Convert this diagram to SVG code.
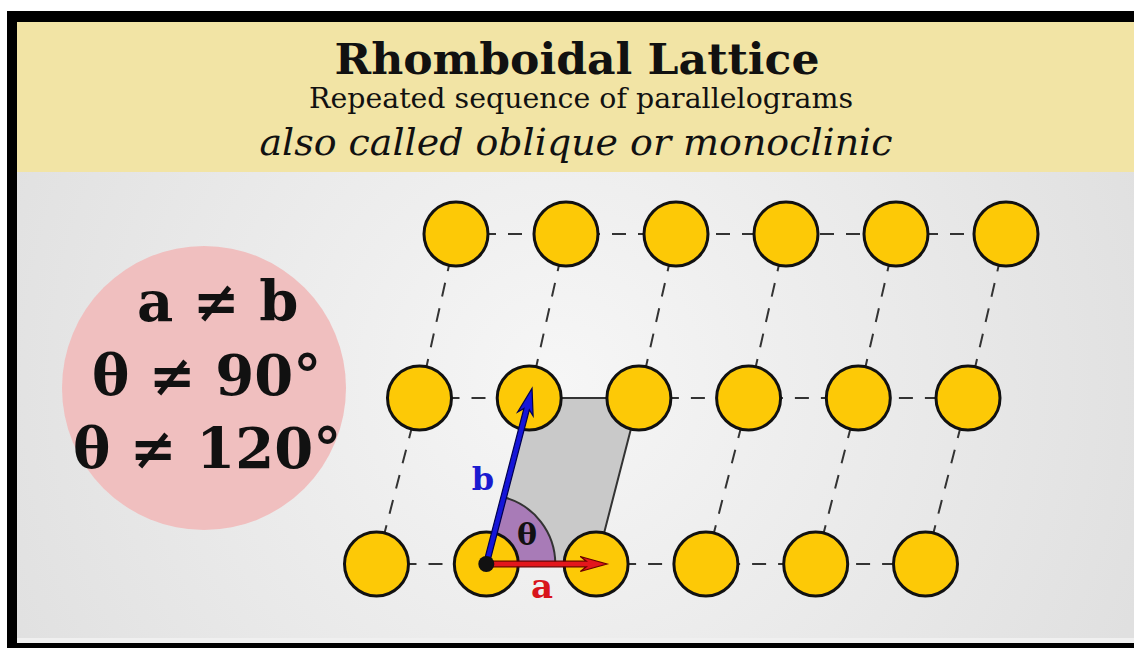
<svg xmlns="http://www.w3.org/2000/svg" width="1134" height="648" viewBox="0 0 1134 648">
<defs>
<radialGradient id="bg" cx="560" cy="380" r="620" gradientUnits="userSpaceOnUse">
<stop offset="0" stop-color="#f6f6f6"/>
<stop offset="1" stop-color="#e0e0e0"/>
</radialGradient>
<style>
.atom{fill:#fdc906;stroke:#111;stroke-width:3}
.dash{fill:none;stroke:#333;stroke-width:2;stroke-dasharray:14 12}
.serifb{font-family:"DejaVu Serif","Liberation Serif",serif;font-weight:bold}
.serif{font-family:"DejaVu Serif","Liberation Serif",serif}
</style>
</defs>
<rect x="0" y="0" width="1134" height="648" fill="#ffffff"/>
<rect x="7" y="11" width="1127" height="637" fill="#000"/>
<rect x="17" y="22" width="1117" height="621" fill="url(#bg)"/>
<rect x="17" y="22" width="1117" height="150" fill="#f2e4a5"/>
<rect x="17" y="638" width="1117" height="5" fill="#f0f0f0"/>

<g id="header">
<text x="577" y="74" text-anchor="middle" class="serifb" font-size="43" textLength="485" lengthAdjust="spacingAndGlyphs" fill="#111">Rhomboidal Lattice</text>
<text x="581" y="108" text-anchor="middle" class="serif" font-size="27" textLength="544" lengthAdjust="spacingAndGlyphs" fill="#111">Repeated sequence of parallelograms</text>
<text x="576" y="155" text-anchor="middle" class="serif" font-style="italic" font-size="37" textLength="633" lengthAdjust="spacingAndGlyphs" fill="#111">also called oblique or monoclinic</text>
</g>

<g id="conditions">
<circle cx="204" cy="388" r="142" fill="#f0bfbf"/>
<text x="137" y="321" class="serifb" font-size="56" fill="#111">a ≠ b</text>
<text x="92" y="395" class="serifb" font-size="56" fill="#111">θ ≠ 90°</text>
<text x="73" y="468" class="serifb" font-size="56" fill="#111">θ ≠ 120°</text>
</g>

<g id="unit-cell">
<path d="M486.3,564 L596.1,564 L638.9,398 L529.2,398 Z" fill="#c9c9c9" stroke="#333" stroke-width="2"/>
</g>

<g id="connectors">
<line class="dash" x1="456" y1="234" x2="1006" y2="234"/>
<line class="dash" x1="419.5" y1="398" x2="529.2" y2="398"/>
<line class="dash" x1="638.9" y1="398" x2="968" y2="398"/>
<line class="dash" x1="376.5" y1="564" x2="486.3" y2="564"/>
<line class="dash" x1="596.1" y1="564" x2="925.5" y2="564"/>
<line class="dash" x1="376.5" y1="564" x2="419.5" y2="398"/>
<line class="dash" x1="705.9" y1="564" x2="748.6" y2="398"/>
<line class="dash" x1="815.7" y1="564" x2="858.3" y2="398"/>
<line class="dash" x1="925.5" y1="564" x2="968" y2="398"/>
<line class="dash" x1="419.5" y1="398" x2="456" y2="234"/>
<line class="dash" x1="529.2" y1="398" x2="566" y2="234"/>
<line class="dash" x1="638.9" y1="398" x2="676" y2="234"/>
<line class="dash" x1="748.6" y1="398" x2="786" y2="234"/>
<line class="dash" x1="858.3" y1="398" x2="896" y2="234"/>
<line class="dash" x1="968" y1="398" x2="1006" y2="234"/>
</g>

<g id="angle">
<path d="M486.3,564 L555.3,564 A69,69 0 0 0 503.7,497.2 Z" fill="#a87bb7" stroke="#333" stroke-width="2"/>
</g>

<g id="atoms">
<circle class="atom" cx="456" cy="234" r="32"/>
<circle class="atom" cx="566" cy="234" r="32"/>
<circle class="atom" cx="676" cy="234" r="32"/>
<circle class="atom" cx="786" cy="234" r="32"/>
<circle class="atom" cx="896" cy="234" r="32"/>
<circle class="atom" cx="1006" cy="234" r="32"/>
<circle class="atom" cx="419.5" cy="398" r="32"/>
<circle class="atom" cx="529.2" cy="398" r="32"/>
<circle class="atom" cx="638.9" cy="398" r="32"/>
<circle class="atom" cx="748.6" cy="398" r="32"/>
<circle class="atom" cx="858.3" cy="398" r="32"/>
<circle class="atom" cx="968" cy="398" r="32"/>
<circle class="atom" cx="376.5" cy="564" r="32"/>
<circle class="atom" cx="486.3" cy="564" r="32"/>
<circle class="atom" cx="596.1" cy="564" r="32"/>
<circle class="atom" cx="705.9" cy="564" r="32"/>
<circle class="atom" cx="815.7" cy="564" r="32"/>
<circle class="atom" cx="925.5" cy="564" r="32"/>
</g>

<g id="vector-a">
<path transform="translate(486.3,564)" d="M0,-2.8 L100,-2.8 L94,-7.5 L120.7,0 L94,7.5 L100,2.8 L0,2.8 Z" fill="#e3161c" stroke="#6a0000" stroke-width="1.2"/>
<text x="542" y="598" text-anchor="middle" class="serifb" font-size="34" fill="#d8141b">a</text>
</g>

<g id="vector-b">
<path transform="translate(486.3,564) rotate(-75.4)" d="M0,-2.8 L160,-2.8 L155,-8 L181.5,0 L155,8 L160,2.8 L0,2.8 Z" fill="#1515d9" stroke="#000050" stroke-width="1.2"/>
<text x="483" y="490" text-anchor="middle" class="serifb" font-size="32" fill="#1a1ad0">b</text>
</g>

<g id="origin">
<circle cx="486.3" cy="564" r="8" fill="#111"/>
</g>

<g id="theta-label">
<text x="527" y="545" text-anchor="middle" class="serifb" font-size="30" fill="#111">θ</text>
</g>
</svg>
